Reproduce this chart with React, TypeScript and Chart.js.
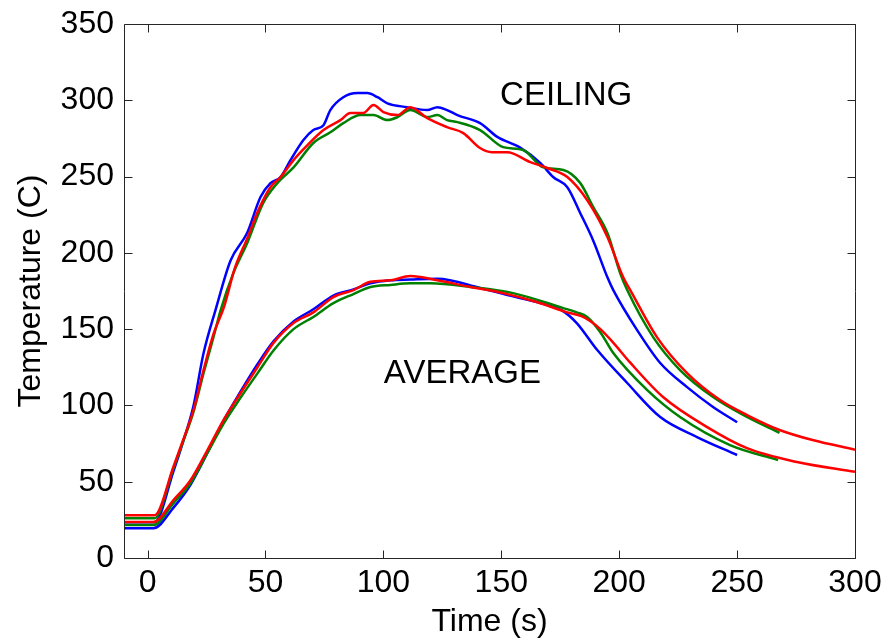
import React, { useEffect, useRef } from "react";
import { Chart, registerables } from "chart.js";

Chart.register(...registerables);

const FONT = "'Liberation Sans', Arial, Helvetica, sans-serif";

// ---- Data (time in s, temperature in C) ----
const ceilBlueT = [-10, 3, 11, 15, 19.5, 23.7, 28.8, 35.2, 42.2, 47.9, 52.1, 56.4, 60.6, 66.1, 70.3, 74.6, 77.5, 83, 89, 93.2, 97.5, 101.7, 110, 118.6, 122.9, 127, 131.4, 141, 148.3, 158, 166.5, 172, 178, 183.5, 189, 195, 197.5, 207.6, 217.4, 228.8, 239.8, 250];
const ceilBlueV = [23.5, 23.5, 57, 76, 100, 134, 162.5, 195, 213, 236.6, 245.7, 249.7, 260.8, 274, 280.5, 283.7, 293.6, 302, 304.7, 304.7, 302, 298, 295.5, 293.6, 295.5, 293.6, 290.3, 285, 276, 269, 259, 249.7, 243, 226, 208, 184, 175.6, 149.4, 127.8, 112, 99, 89];

const ceilGreenT = [-10, 3, 11, 15, 19.5, 23.7, 28, 31, 36.4, 42.4, 49, 55, 61.9, 70.3, 77.5, 83, 90.3, 95.8, 101.7, 106, 111.4, 118.6, 122.9, 127, 131.4, 141, 150.8, 159.3, 167.8, 176.3, 183.5, 189, 195, 200.4, 203.4, 214.4, 225.8, 239.8, 254.2, 268];
const ceilGreenV = [26, 26, 59, 76, 96, 121, 145, 162.5, 186.8, 207, 232.6, 245.7, 256, 272, 279, 285, 290.3, 290.3, 287, 289, 293.6, 289, 290.3, 287, 285.7, 280.5, 269.3, 267.4, 256, 254.3, 245.7, 230, 213, 186.8, 175.6, 144.8, 123.2, 105.5, 92.4, 82];

const ceilRedT = [-10, 3, 11, 15, 19.5, 23.7, 28, 32.5, 37, 42.4, 47, 52.1, 56.4, 61.9, 67.8, 74.6, 81.8, 86, 91.5, 95.8, 100, 106, 111.4, 118.6, 127, 133.9, 141, 146, 152.5, 162.3, 169.5, 178, 186.4, 195, 201.7, 204.7, 216, 228.8, 242.8, 254.2, 268, 282, 300];
const ceilRedV = [28, 28, 60, 77, 97, 123, 147, 165, 190, 210, 228, 243, 249.7, 260.8, 270.6, 280.5, 287, 291.6, 291.6, 296.9, 292.3, 290.3, 295.5, 288.3, 282.4, 278.5, 268.7, 266, 266, 259.5, 255.6, 249.7, 234.6, 210.4, 184, 175.6, 144.8, 121.2, 103.5, 93.7, 83.9, 77.3, 71];

const avgBlueT = [-10, 2.5, 11, 18.2, 25.4, 32.2, 39.4, 46.6, 53.4, 61.9, 70.3, 78.8, 87.3, 94.5, 103, 111.4, 122.9, 141, 155, 169.5, 176, 182, 190.7, 203.4, 217.4, 233, 250];
const avgBlueV = [19.5, 19.5, 33, 48, 69, 90, 109, 127, 142, 155, 163, 172, 176, 180, 182, 182.5, 183, 177, 171.5, 165.8, 162, 154, 136.3, 114.7, 92.4, 79.3, 67.5];

const avgGreenT = [-10, 2.5, 11, 18.2, 25.4, 32.2, 39.4, 46.6, 53.4, 61.9, 70.3, 78.8, 87.3, 94.5, 103, 111.4, 120, 137, 155, 176.3, 182, 186.4, 192, 197.5, 211.9, 225.8, 247, 267.4];
const avgGreenV = [21.6, 21.6, 36, 49, 69, 88, 105, 121, 136, 150, 158, 167, 173, 177.6, 179, 180, 180, 177.6, 173.6, 163.8, 161, 158, 148, 134.3, 110, 92.4, 74, 64.2];

const avgRedT = [-10, 2.5, 11, 18.2, 25.4, 32.2, 39.4, 46.6, 53.4, 61.9, 70.3, 78.8, 87.3, 94.5, 103, 111.4, 122.9, 136.9, 150.8, 165, 178, 184, 188, 192, 197, 204.7, 218.6, 237.3, 254.2, 275.4, 300];
const avgRedV = [23.6, 23.6, 38, 51, 70.8, 90.4, 108, 125, 141, 154, 161, 171, 175.6, 181, 182, 184.8, 182, 177.6, 173.6, 167.8, 161, 158.5, 155, 150, 142, 128, 105.5, 85.8, 72, 62.9, 56.5];

const xTicks = [0, 50, 100, 150, 200, 250, 300];
const yTicks = [0, 50, 100, 150, 200, 250, 300, 350];

const annotations = [
  { text: "CEILING", t: 177.5, v: 303 },
  { text: "AVERAGE", t: 133.5, v: 120.6 },
];

const BLUE = "#0000ff";
const GREEN = "#008000";
const RED = "#ff0000";

function pts(t: number[], v: number[]) {
  return t.map((x, i) => ({ x, y: v[i] }));
}

export default function App() {
  const ref = useRef<HTMLCanvasElement | null>(null);

  useEffect(() => {
    if (!ref.current) return;
    const boxPlugin = {
      id: "boxAndText",
      afterDatasetsDraw(chart: any) {
        const { ctx, chartArea } = chart;
        const xs = chart.scales.x;
        const ys = chart.scales.y;
        ctx.save();
        ctx.strokeStyle = "#262626";
        ctx.lineWidth = 1;
        const L = Math.round(chartArea.left) + 0.5;
        const R = Math.round(chartArea.right) + 0.5;
        const T = Math.round(chartArea.top) + 0.5;
        const B = Math.round(chartArea.bottom) + 0.5;
        ctx.beginPath();
        ctx.rect(L, T, R - L, B - T);
        const tl = 8;
        xTicks.forEach((v) => {
          const px = Math.round(xs.getPixelForValue(v)) + 0.5;
          ctx.moveTo(px, B);
          ctx.lineTo(px, B - tl);
          ctx.moveTo(px, T);
          ctx.lineTo(px, T + tl);
        });
        yTicks.forEach((v) => {
          const py = Math.round(ys.getPixelForValue(v)) + 0.5;
          ctx.moveTo(L, py);
          ctx.lineTo(L + tl, py);
          ctx.moveTo(R, py);
          ctx.lineTo(R - tl, py);
        });
        ctx.stroke();
        ctx.fillStyle = "#000";
        ctx.font = `33px ${FONT}`;
        ctx.textAlign = "center";
        ctx.textBaseline = "middle";
        annotations.forEach((a) => {
          ctx.fillText(a.text, xs.getPixelForValue(a.t), ys.getPixelForValue(a.v));
        });
        ctx.restore();
      },
    };

    const mk = (label: string, t: number[], v: number[], color: string) => ({
      label,
      data: pts(t, v),
      borderColor: color,
      backgroundColor: color,
      borderWidth: 2.5,
      pointRadius: 0,
      cubicInterpolationMode: "monotone",
      fill: false,
    });

    const chart = new Chart(ref.current, {
      type: "line",
      data: {
        datasets: [
          mk("Ceiling red", ceilRedT, ceilRedV, RED),
          mk("Average red", avgRedT, avgRedV, RED),
          mk("Ceiling green", ceilGreenT, ceilGreenV, GREEN),
          mk("Average green", avgGreenT, avgGreenV, GREEN),
          mk("Ceiling blue", ceilBlueT, ceilBlueV, BLUE),
          mk("Average blue", avgBlueT, avgBlueV, BLUE),
        ],
      },
      options: {
        responsive: false,
        animation: false,
        devicePixelRatio: 1,
        layout: { padding: { top: 24, right: 28, left: 0, bottom: 0 } },
        plugins: {
          legend: { display: false },
          tooltip: { enabled: false },
        },
        scales: {
          x: {
            type: "linear",
            min: -10,
            max: 300,
            afterBuildTicks: (s: any) => {
              s.ticks = xTicks.map((v) => ({ value: v }));
            },
            ticks: {
              color: "#000",
              font: { family: FONT, size: 32 },
              padding: 6,
              maxRotation: 0,
              autoSkip: false,
            },
            grid: { display: false, drawTicks: false },
            border: { display: false },
            title: {
              display: true,
              text: "Time (s)",
              color: "#000",
              font: { family: FONT, size: 32 },
              padding: { top: 0, bottom: 1 },
            },
            afterFit: (s: any) => {
              s.height = 84;
              s.paddingLeft = 0;
              s.paddingRight = 0;
            },
          },
          y: {
            type: "linear",
            min: 0,
            max: 350,
            afterBuildTicks: (s: any) => {
              s.ticks = yTicks.map((v) => ({ value: v }));
            },
            ticks: {
              color: "#000",
              font: { family: FONT, size: 32 },
              padding: 10,
              autoSkip: false,
            },
            grid: { display: false, drawTicks: false },
            border: { display: false },
            title: {
              display: true,
              text: "Temperature (C)",
              color: "#000",
              font: { family: FONT, size: 32 },
              padding: { top: 12, bottom: 0 },
            },
            afterFit: (s: any) => {
              s.width = 124;
              s.paddingTop = 0;
              s.paddingBottom = 0;
            },
          },
        },
      },
      plugins: [boxPlugin],
    } as any);

    return () => chart.destroy();
  }, []);

  return (
    <div style={{ position: "fixed", left: 0, top: 0, width: 883, height: 642, background: "#fff" }}>
      <canvas ref={ref} width={883} height={642} style={{ display: "block" }} />
    </div>
  );
}
